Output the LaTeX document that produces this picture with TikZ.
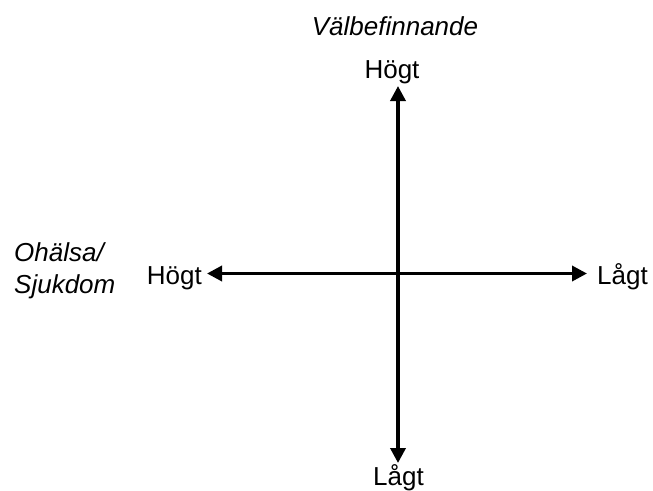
\documentclass[tikz,border=0pt]{standalone}
\usepackage{fontspec}
\setmainfont{Liberation Sans}
\usetikzlibrary{arrows.meta}
\tikzset{
  lbl/.style={inner sep=0pt, font=\fontsize{26}{31}\selectfont},
  ilbl/.style={lbl, font=\fontsize{26}{31}\selectfont\itshape},
  axis/.style={line width=3.5pt, {Triangle[length=15pt,width=15pt]}-{Triangle[length=15pt,width=15pt]}}
}
\begin{document}
\begin{tikzpicture}[x=1pt,y=-1pt]
\useasboundingbox (0,0) rectangle (653,490);
\node[ilbl, anchor=base] (title) at (395,35) {Välbefinnande};
\node[lbl, anchor=base] (top) at (392,78) {Högt};
\node[lbl, anchor=base] (bottom) at (398.5,485) {Lågt};
\node[lbl, anchor=base east] (left) at (202,284) {Högt};
\node[lbl, anchor=base west] (right) at (597,284) {Lågt};
\node[ilbl, anchor=base west] (oh1) at (14,261) {Ohälsa/};
\node[ilbl, anchor=base west] (oh2) at (14,293) {Sjukdom};
\coordinate (vt) at (398,86);
\coordinate (vb) at (398,463);
\coordinate (hl) at (207,273.5);
\coordinate (hr) at (587,273.5);
\draw[axis] (vb) -- (vt);
\draw[axis] (hl) -- (hr);
\end{tikzpicture}
\end{document}
